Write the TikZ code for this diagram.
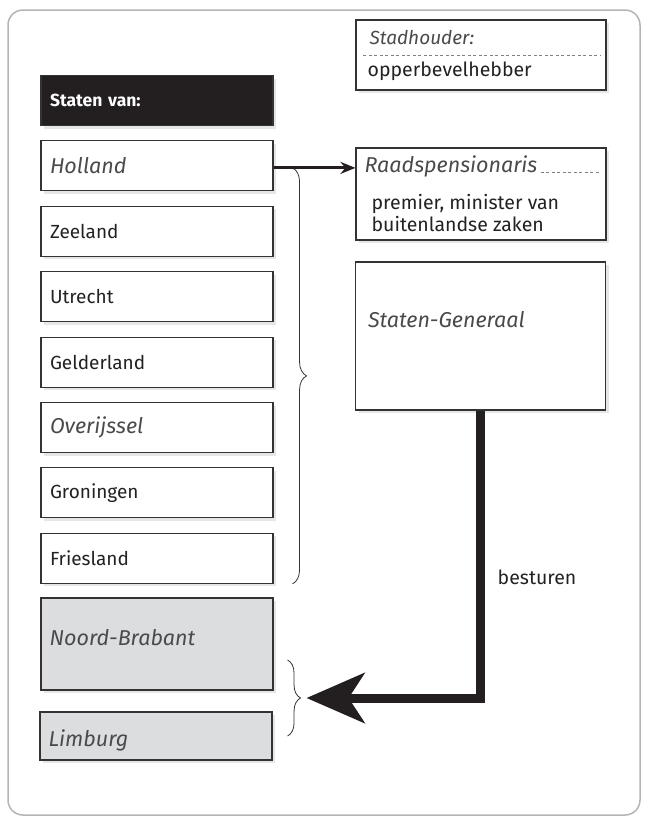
\documentclass[tikz,border=0pt]{standalone}
\usepackage{fontspec}
\setmainfont{Fira Sans}
\newfontfamily\handfont{Fira Sans}
\usetikzlibrary{shadows,decorations.pathreplacing,arrows.meta,calc}

\definecolor{boxline}{HTML}{333333}
\definecolor{headblack}{HTML}{231F20}
\definecolor{newgray}{HTML}{DCDDDF}
\definecolor{framegray}{HTML}{B4B4B4}
\definecolor{handgray}{HTML}{4A4A4A}
\definecolor{textdark}{HTML}{222222}

\begin{document}
\begin{tikzpicture}[
			x=1pt, y=-1pt,
			base/.style={draw=boxline, line width=1.1pt, inner ysep=0pt, inner xsep=9pt, minimum height=50pt, text width=214pt, align=left,
				drop shadow={shadow xshift=3pt, shadow yshift=-3pt, opacity=0.2}},
			header/.style={base, fill=headblack, text=white, font=\fontsize{17.5}{20}\bfseries\selectfont},
			prov/.style={base, fill=white, text=textdark, font=\fontsize{19}{22}\selectfont},
			prov-hand/.style={base, fill=white, text=handgray, font=\handfont\itshape\fontsize{21.5}{24}\selectfont},
			prov-new/.style={base, fill=newgray},
			office/.style={base, fill=white, text width=232pt},
			txt/.style={anchor=west, inner sep=0pt, text=textdark, font=\fontsize{19.5}{22}\selectfont},
			hand/.style={anchor=west, inner sep=0pt, text=handgray, font=\handfont\itshape\fontsize{21.5}{24}\selectfont},
			brace/.style={decorate, decoration={brace, amplitude=#1}, draw=boxline, line width=0.8pt},
			]

			\newcommand{\rowh}{65.4}
			\newcommand{\rowtop}{100.5}

			\useasboundingbox (0,0) rectangle (646,820);
			\draw [draw=framegray, line width=1.5pt, rounded corners=15pt] (8,10) rectangle (640,815);

			% provincies
			\node [header]    (head)       at (157,{\rowtop+0*\rowh}) {Staten van:};
			\node [prov-hand] (holland)    at (157,{\rowtop+1*\rowh}) {Holland};
			\node [prov]      (zeeland)    at (157,{\rowtop+2*\rowh}) {Zeeland};
			\node [prov]      (utrecht)    at (157,{\rowtop+3*\rowh}) {Utrecht};
			\node [prov]      (gelderland) at (157,{\rowtop+4*\rowh}) {Gelderland};
			\node [prov-hand] (overijssel) at (157,{\rowtop+5*\rowh}) {Overijssel};
			\node [prov]      (groningen)  at (157,{\rowtop+6*\rowh}) {Groningen};
			\node [prov]      (friesland)  at (157,{\rowtop+7*\rowh}) {Friesland};

			\node [prov-new, minimum height=92pt] (noord)   at (157,644) {};
			\node [prov-new, minimum height=48pt] (limburg) at (156,736) {};
			\node [hand] (noordtxt)   at ($(noord.west)+(9,-6)$)   {Noord-Brabant};
			\node [hand] (limburgtxt) at ($(limburg.west)+(9,4)$)  {Limburg};

			% ambten
			\node [office, minimum height=70pt]  (stad) at (481,55) {};
			\node [hand, font=\handfont\itshape\fontsize{19}{22}\selectfont] (stadtitle) at ($(stad.north west)+(14,18)$) {Stadhouder:};
			\node [txt]  (stadbody)  at ($(stad.north west)+(12,52)$) {opperbevelhebber};
			\draw [dashed, dash pattern=on 3pt off 2.5pt, draw=gray] ($(stad.west)+(8,0)$) -- ($(stad.east)+(-6,0)$);

			\node [office, minimum height=92pt]  (raad) at (481,194) {};
			\node [hand] (raadtitle) at ($(raad.north west)+(9,19)$) {Raadspensionaris};
			\node [txt, anchor=north west, align=left] (raadbody) at ($(raad.north west)+(16,47)$) {premier, minister van\\buitenlandse zaken};
			\draw [dashed, dash pattern=on 3pt off 2.5pt, draw=gray] ([xshift=3pt]raadtitle.base east) -- ([xshift=-6pt]raadtitle.base east -| raad.east);

			\node [office, minimum height=148pt] (gen) at (480.5,336) {};
			\node [hand] (gentitle) at ($(gen.north west)+(13,58)$) {Staten-Generaal};

			% accolades
			\draw [brace=14pt] ([xshift=19pt,yshift=-2pt]holland.east) -- ([xshift=19pt]friesland.south east);
			\coordinate (bb-top) at ([xshift=14pt,yshift=-16pt]noord.east);
			\coordinate (bb-bot) at ([xshift=15pt]limburg.east);
			\coordinate (bb-tip) at ($(bb-top)!0.5!(bb-bot)+(19,0)$);
			\draw [brace=13pt] (bb-top) -- (bb-bot);

			% pijlen
			\draw [line width=3pt, draw=headblack, -{Stealth[length=15pt, width=12pt]}] ([yshift=-2pt]holland.east) -- ([yshift=-2pt]holland.east -| raad.west);
			\draw [line width=9pt, draw=headblack, -{Stealth[length=58pt, width=50pt, inset=16pt]}] (gen.south) |- (bb-tip);
			\node [txt] (besturen) at ($(gen.south)+(17,167)$) {besturen};

		\end{tikzpicture}
\end{document}
